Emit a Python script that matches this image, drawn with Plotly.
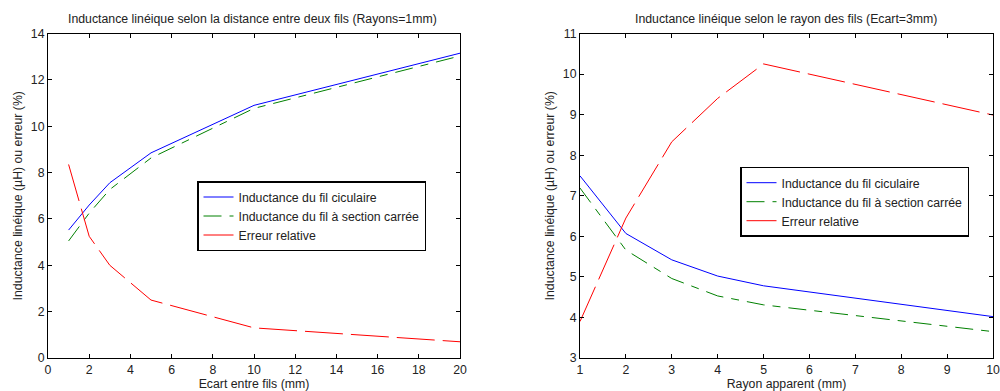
import plotly.graph_objects as go

# Left chart: inductance vs distance between wires (radius = 1 mm)
ecart = [1, 2, 3, 5, 10, 20]
l_circ_ecart = [5.52, 6.60, 7.56, 8.85, 10.90, 13.15]
l_carre_ecart = [5.05, 6.25, 7.27, 8.63, 10.77, 13.03]
err_ecart = [8.35, 5.25, 4.0, 2.5, 1.3, 0.7]

# Right chart: inductance vs wire radius (distance = 3 mm)
rayon = [1, 2, 3, 4, 5, 10]
l_circ_rayon = [7.49, 6.07, 5.42, 5.02, 4.78, 4.02]
l_carre_rayon = [7.19, 5.66, 4.96, 4.53, 4.31, 3.65]
err_rayon = [3.9, 6.45, 8.33, 9.40, 10.25, 8.99]

names = ["Inductance du fil ciculaire", "Inductance du fil à section carrée", "Erreur relative"]
colors = ["#0000ff", "#008000", "#ff0000"]
dashes = ["solid", "18px,8px,8px,8px", "38px,8px"]

FONT = "Liberation Sans, Arial, sans-serif"
FS = 12.3

fig = go.Figure()
for ys, nm, c, d in zip([l_circ_ecart, l_carre_ecart, err_ecart], names, colors, dashes):
    fig.add_trace(go.Scatter(x=ecart, y=ys, name=nm, mode="lines",
                             line=dict(color=c, width=1, dash=d),
                             xaxis="x", yaxis="y", legend="legend"))
for ys, nm, c, d in zip([l_circ_rayon, l_carre_rayon, err_rayon], names, colors, dashes):
    fig.add_trace(go.Scatter(x=rayon, y=ys, name=nm, mode="lines",
                             line=dict(color=c, width=1, dash=d),
                             xaxis="x2", yaxis="y2", legend="legend2"))

ydom = [1 - 358 / 391, 1 - 33.5 / 391]
axis_common = dict(showgrid=False, zeroline=False, showline=True, linecolor="black",
                   linewidth=1, mirror="allticks", ticks="inside", ticklen=4,
                   tickcolor="black", tickfont=dict(size=FS, color="#222"),
                   title_font=dict(size=FS, color="#222"), automargin=False)

fig.update_layout(
    width=1000, height=391,
    margin=dict(l=0, r=0, t=0, b=0, autoexpand=False),
    paper_bgcolor="white", plot_bgcolor="white",
    font=dict(family=FONT, size=FS, color="#222"),
    xaxis=dict(domain=[0.048, 0.46], range=[0, 20], dtick=2, anchor="y",
               title=dict(text="Ecart entre fils (mm)", standoff=5), **axis_common),
    yaxis=dict(domain=ydom, range=[0, 14], dtick=2, anchor="x",
               title=dict(text="Inductance linéique (µH) ou erreur (%)", standoff=5), **axis_common),
    xaxis2=dict(domain=[0.58, 0.993], range=[1, 10], dtick=1, anchor="y2",
                title=dict(text="Rayon apparent (mm)", standoff=5), **axis_common),
    yaxis2=dict(domain=ydom, range=[3, 11], dtick=1, anchor="x2",
                title=dict(text="Inductance linéique (µH) ou erreur (%)", standoff=5), **axis_common),
    legend=dict(x=0.197, y=1 - 181 / 391, xanchor="left", yanchor="top",
                bgcolor="white", bordercolor="black", borderwidth=1.5,
                font=dict(size=FS, color="#222"), tracegroupgap=0),
    legend2=dict(x=0.74, y=1 - 166.7 / 391, xanchor="left", yanchor="top",
                 bgcolor="white", bordercolor="black", borderwidth=1.5,
                 font=dict(size=FS, color="#222"), tracegroupgap=0),
    annotations=[
        dict(text="Inductance linéique selon la distance entre deux fils (Rayons=1mm)",
             x=0.2525, y=1 - 19 / 391, xref="paper", yref="paper", showarrow=False,
             font=dict(size=FS, color="#222"), xanchor="center", yanchor="middle"),
        dict(text="Inductance linéique selon le rayon des fils (Ecart=3mm)",
             x=0.7855, y=1 - 19 / 391, xref="paper", yref="paper", showarrow=False,
             font=dict(size=FS, color="#222"), xanchor="center", yanchor="middle"),
    ],
    showlegend=True,
)

fig.write_html("out.html", config={"displayModeBar": False},
               post_script="document.body.style.margin='0';document.body.style.overflow='hidden';")
